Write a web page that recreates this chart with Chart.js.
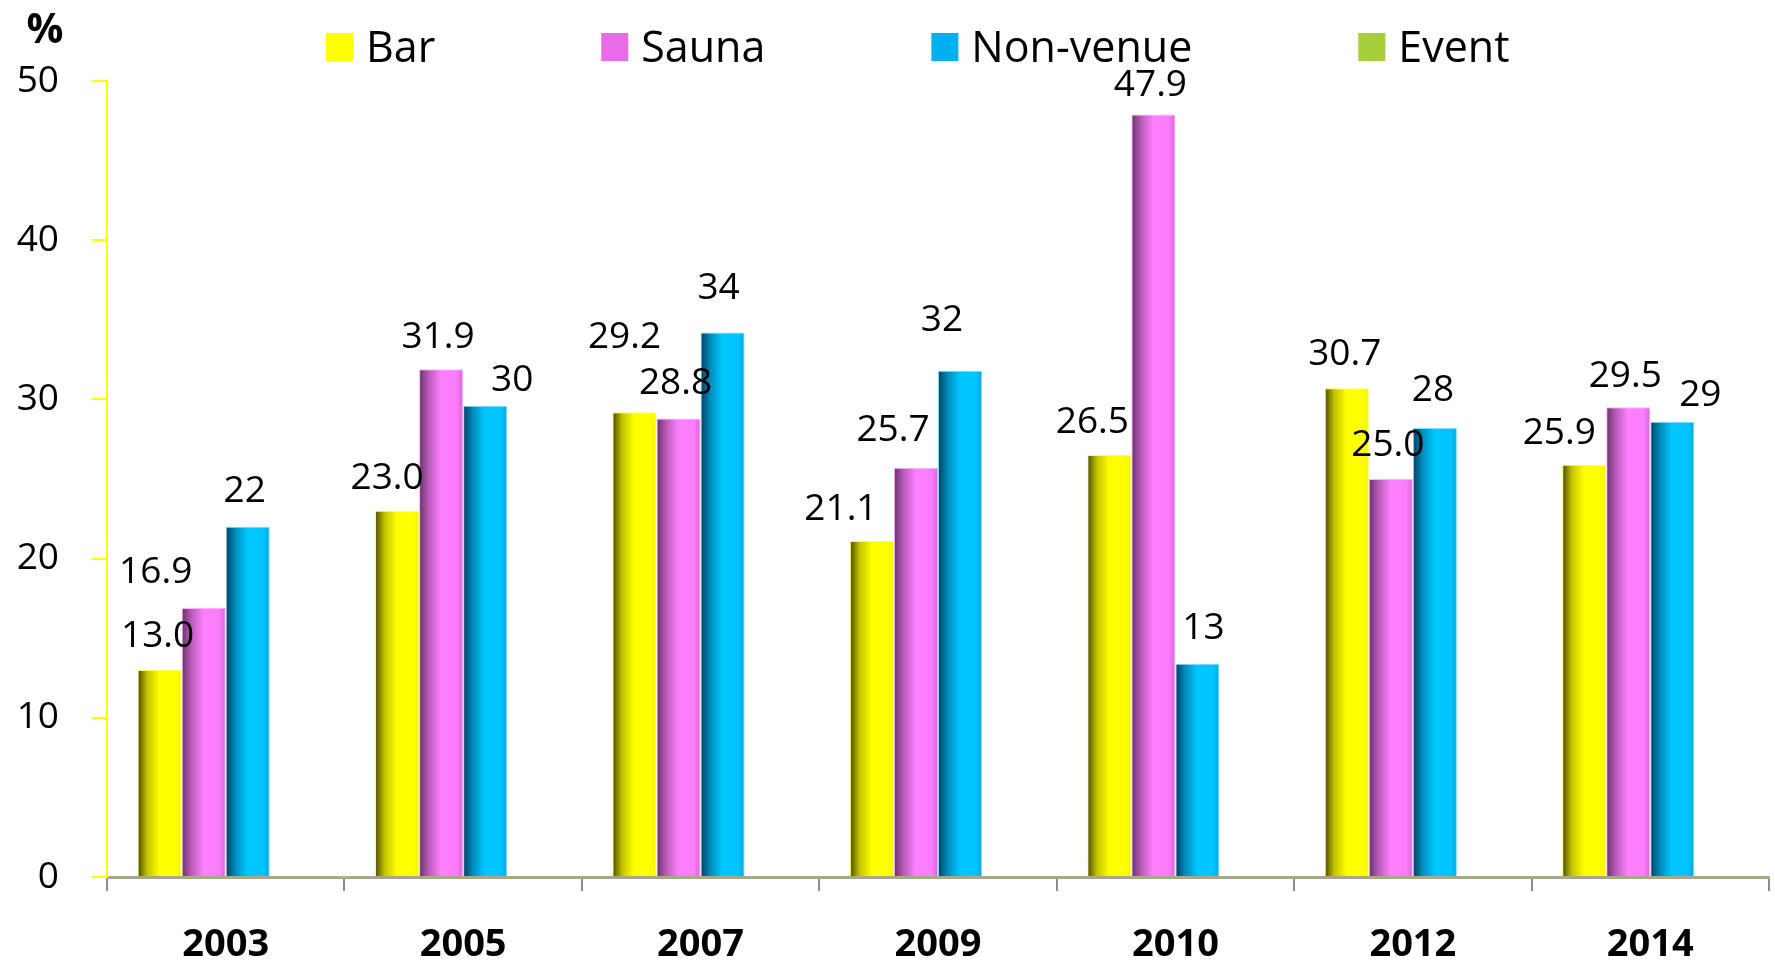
<!DOCTYPE html>
<html>
<head>
<meta charset="utf-8">
<script src="https://cdn.jsdelivr.net/npm/chart.js@4.4.1/dist/chart.umd.min.js"></script>
<style>
  html, body { margin: 0; padding: 0; background: #ffffff; }
  #wrap { position: relative; width: 1775px; height: 961px; }
</style>
</head>
<body>
<div id="wrap"><canvas id="c" width="1775" height="961"></canvas></div>
<script>
// ---- data ----
const years = ['2003', '2005', '2007', '2009', '2010', '2012', '2014'];
const seriesNames = ['Bar', 'Sauna', 'Non-venue', 'Event'];
const barValues = [13.0, 23.0, 29.2, 21.1, 26.5, 30.7, 25.9];
const saunaValues = [16.9, 31.9, 28.8, 25.7, 47.9, 25.0, 29.5];
const nonVenueValues = [22.0, 29.6, 34.2, 31.8, 13.4, 28.2, 28.6];
const eventValues = [null, null, null, null, null, null, null];
const yTicks = [0, 10, 20, 30, 40, 50];

// ---- label decimals & nudges (style only) ----
const labelDecimals = [1, 1, 0, 0];
const labelNudges = [
  [[-2,-36],[-10,-35],[-10,-77],[-31,-34],[-17,-35],[-2,-36],[-25,-34]],
  [[-48,-38],[-3,-34],[-3,-38],[-23,-40],[-3,-32],[-3,-36],[-3,-34]],
  [[-3,-38],[27,-28],[-4,-47],[-18,-53],[6,-38],[-2,-40],[28,-29]],
  []
];

const FONT = '"Open Sans", "Noto Sans", sans-serif';
const CAT_PCT = 0.742;

// cylinder-like gradient colors: [dark left, mid, bright, bright, right edge]
const palettes = [
  ['#4a4a00', '#c4c400', '#ffff00', '#ffff00', '#f2f200'],
  ['#6a2f6a', '#b85cb8', '#ff80ff', '#fb7cfb', '#d865d8'],
  ['#003f5e', '#008cbc', '#00c8ff', '#00c4ff', '#00a8e0']
];
const flatColors = ['#ffff00', '#f07cf0', '#00b0f0', '#a6ce39'];
const borderColors = ['#ffff60', '#ffb0ff', '#80dcff', '#a6ce39'];

function cylinder(ctx) {
  const di = ctx.datasetIndex;
  if (ctx.type !== 'data' || di > 2) return flatColors[di];
  const chart = ctx.chart;
  const xs = chart.scales && chart.scales.x;
  if (!xs || !isFinite(xs.left) || !isFinite(xs.right)) return flatColors[di];
  const n = years.length;
  const cat = (xs.right - xs.left) / n;
  const group = cat * CAT_PCT;
  const bw = group / chart.data.datasets.length;
  const c = xs.getPixelForValue(ctx.dataIndex);
  const l = c - group / 2 + di * bw;
  const g = chart.ctx.createLinearGradient(l, 0, l + bw, 0);
  const p = palettes[di];
  g.addColorStop(0, p[0]);
  g.addColorStop(0.22, p[1]);
  g.addColorStop(0.5, p[2]);
  g.addColorStop(0.85, p[3]);
  g.addColorStop(1, p[4]);
  return g;
}

const valueArrays = [barValues, saunaValues, nonVenueValues, eventValues];

const datasets = seriesNames.map((name, i) => ({
  label: name,
  data: valueArrays[i],
  backgroundColor: cylinder,
  borderColor: borderColors[i],
  borderWidth: 1,
  categoryPercentage: CAT_PCT,
  barPercentage: 1.0
}));

const overlayPlugin = {
  id: 'overlay',
  afterDatasetsDraw(chart) {
    const ctx = chart.ctx;
    ctx.save();
    const fs = 37;
    ctx.font = fs + 'px ' + FONT;
    ctx.fillStyle = '#000000';
    ctx.textAlign = 'center';
    ctx.textBaseline = 'alphabetic';
    chart.data.datasets.forEach((ds, di) => {
      const meta = chart.getDatasetMeta(di);
      meta.data.forEach((el, i) => {
        const v = ds.data[i];
        if (v === null || v === undefined) return;
        const nudge = (labelNudges[di] && labelNudges[di][i]) || [-3, -36];
        const txt = labelDecimals[di] ? v.toFixed(labelDecimals[di]) : String(Math.round(v));
        ctx.fillText(txt, el.x + nudge[0], el.y + nudge[1] + fs * 0.357);
      });
    });
    ctx.restore();
  },
  afterDraw(chart) {
    const ctx = chart.ctx;
    ctx.save();
    // "%" unit label
    ctx.font = 'bold 41px ' + FONT;
    ctx.fillStyle = '#000000';
    ctx.textAlign = 'center';
    ctx.textBaseline = 'alphabetic';
    ctx.fillText('%', 45, 43);
    // legend
    ctx.font = '43px ' + FONT;
    ctx.textAlign = 'left';
    let x = 326;
    const legendColors = ['#ffff00', '#e86be8', '#00b0f0', '#a6ce39'];
    chart.data.datasets.forEach((ds, i) => {
      ctx.fillStyle = legendColors[i];
      ctx.fillRect(x, 33, 27, 28);
      ctx.fillStyle = '#000000';
      ctx.fillText(ds.label, x + 40, 62);
      x += 40 + ctx.measureText(ds.label).width + 166;
    });
    ctx.restore();
  }
};

new Chart(document.getElementById('c'), {
  type: 'bar',
  data: { labels: years, datasets },
  plugins: [overlayPlugin],
  options: {
    responsive: false,
    animation: false,
    events: [],
    layout: { padding: { top: 81, right: 6, left: 0, bottom: 0 } },
    plugins: {
      legend: { display: false },
      tooltip: { enabled: false },
      title: { display: false }
    },
    scales: {
      x: {
        offset: true,
        grid: {
          offset: true,
          drawOnChartArea: false,
          drawTicks: true,
          tickLength: 14,
          tickColor: '#8c8c8c',
          lineWidth: 2
        },
        border: { display: true, color: '#a8a888', width: 3 },
        ticks: {
          color: '#000000',
          font: { family: FONT, size: 38, weight: 'bold' },
          padding: 31,
          maxRotation: 0
        },
        afterFit(scale) { scale.height = 84; }
      },
      y: {
        min: 0,
        max: 50,
        afterBuildTicks(scale) { scale.ticks = yTicks.map(v => ({ value: v })); },
        grid: {
          drawOnChartArea: false,
          drawTicks: true,
          tickLength: 15,
          tickColor: '#ffff00',
          lineWidth: 2
        },
        border: { display: true, color: '#ffff00', width: 2 },
        ticks: {
          color: '#000000',
          font: { family: FONT, size: 37 },
          padding: 33
        },
        afterFit(scale) { scale.width = 107; }
      }
    }
  }
});
</script>
</body>
</html>
